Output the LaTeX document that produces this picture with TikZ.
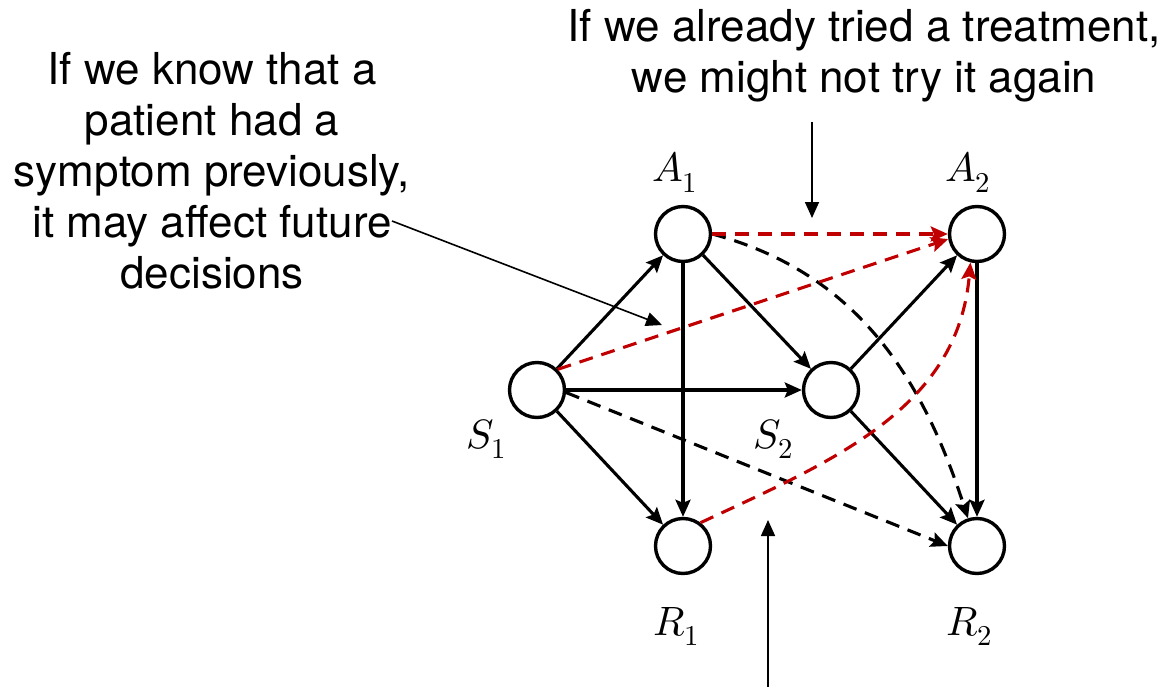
\documentclass[tikz,border=0pt]{standalone}
\usepackage{fontspec}
\usepackage{unicode-math}
\setmainfont{TeX Gyre Heros}
\setmathfont{Latin Modern Math}
\usetikzlibrary{arrows.meta}
\definecolor{dred}{RGB}{192,0,0}
\begin{document}
\begin{tikzpicture}[x=1pt,y=1pt,
  var/.style={circle,draw,line width=3.4pt,minimum size=55pt,inner sep=0pt},
  lab/.style={anchor=base,inner sep=0pt,font=\fontsize{41}{44}\selectfont},
  solidarrow/.style={line width=3.1pt,-{Stealth[length=17pt,width=15pt,inset=3pt]}},
  dashedarrow/.style={solidarrow,dash pattern=on 14pt off 9pt},
  redarrow/.style={dashedarrow,draw=dred},
  note/.style={align=center,anchor=base,inner sep=0pt,font=\fontsize{44}{51}\selectfont},
  pointer/.style={line width=1.6pt,-{Triangle[length=16pt,width=14pt]}}]
\useasboundingbox (0,0) rectangle (1174,-687);
\node[var] (S1) at (537,-390) {};
\node[var] (A1) at (683,-234) {};
\node[var] (S2) at (831,-390) {};
\node[var] (A2) at (977,-234) {};
\node[var] (R1) at (683,-546) {};
\node[var] (R2) at (977,-546) {};
\node[lab] (lA1) at (675,-182) {$A_1$};
\node[lab] (lA2) at (968,-182) {$A_2$};
\node[lab] (lS1) at (486,-448) {$S_1$};
\node[lab] (lS2) at (773,-448) {$S_2$};
\node[lab] (lR1) at (676,-635) {$R_1$};
\node[lab] (lR2) at (969,-635) {$R_2$};
% solid edges
\draw[solidarrow] (S1) -- (A1);
\draw[solidarrow] (S1) -- (S2);
\draw[solidarrow] (S1) -- (R1);
\draw[solidarrow] (A1) -- (R1);
\draw[solidarrow] (A1) -- (S2);
\draw[solidarrow] (S2) -- (A2);
\draw[solidarrow] (S2) -- (R2);
\draw[solidarrow] (A2) -- (R2);
% dashed black
\draw[dashedarrow] (S1.-5) -- (R2.180);
\draw[dashedarrow] (A1.east) to[out=-15,in=108] (R2.108);
% dashed red
\draw[redarrow] (A1.east) -- (A2.west);
\draw[redarrow] (S1.45) -- (A2.190);
\draw[redarrow] (R1.53) to[out=25,in=-95] (A2.-103);
% notes
\node[note] (n1) at (864,-93) {If we already tried a treatment,\\we might not try it again};
\node[note] (n2) at (212,-288) {If we know that a\\patient had a\\symptom previously,\\it may affect future\\decisions};
\coordinate (p1a) at (812,-122);
\coordinate (p1b) at (812,-218);
\coordinate (p2a) at (392,-221);
\coordinate (p2b) at (662,-325);
\coordinate (p3a) at (768,-687);
\coordinate (p3b) at (768,-520);
\draw[pointer] (p1a) -- (p1b);
\draw[pointer] (p2a) -- (p2b);
\draw[pointer] (p3a) -- (p3b);
\end{tikzpicture}
\end{document}
